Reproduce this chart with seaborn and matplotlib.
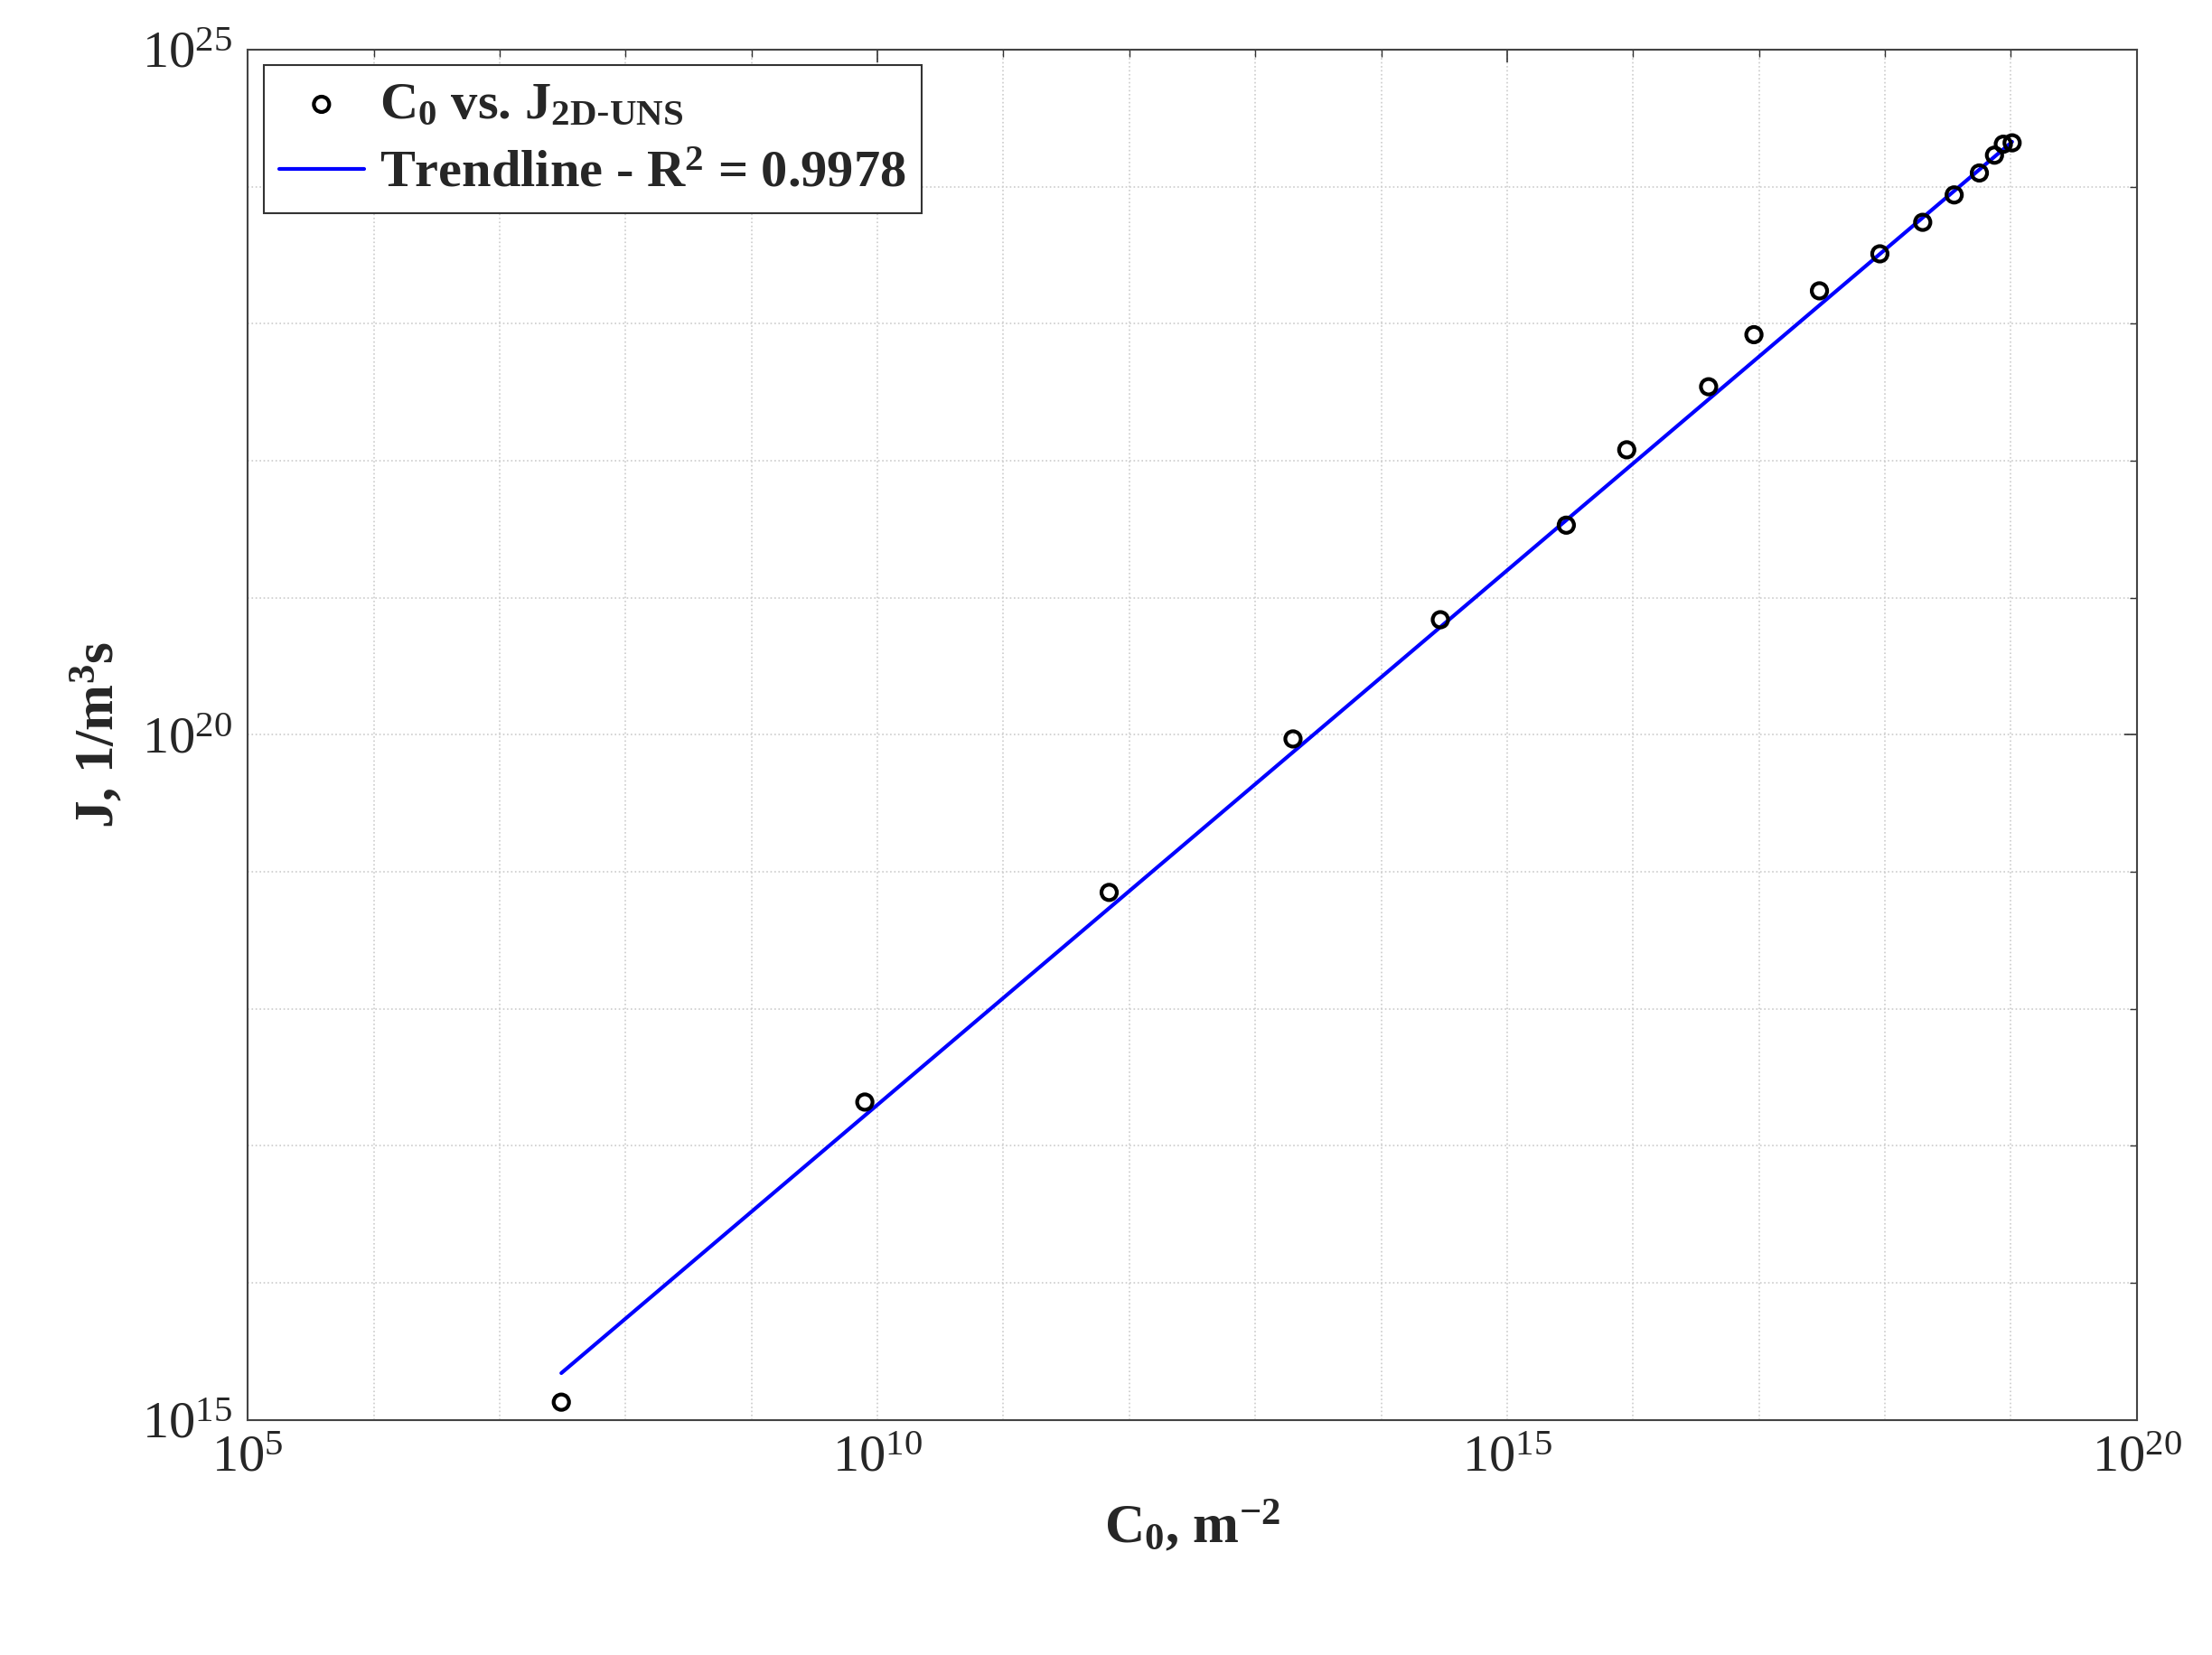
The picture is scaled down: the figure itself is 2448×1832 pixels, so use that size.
import numpy as np
import pandas as pd
import matplotlib
matplotlib.use("Agg")
import matplotlib.pyplot as plt
import seaborn as sns
from matplotlib.ticker import FixedLocator, FuncFormatter, NullFormatter

# log10 values
log_c0 = [7.49, 9.90, 11.84, 13.30, 14.47, 15.47, 15.95, 16.60, 16.96, 17.48,
          17.96, 18.30, 18.55, 18.75, 18.87, 18.94, 19.01]
log_j = [15.13, 17.32, 18.85, 19.97, 20.84, 21.53, 22.08, 22.54, 22.92, 23.24,
         23.51, 23.74, 23.94, 24.10, 24.23, 24.31, 24.32]
trend_slope = 0.780
trend_intercept = 9.50
major_x = [5, 10, 15, 20]
major_y = [15, 20, 25]

sns.set_style("white")
plt.rcParams["font.family"] = ["Liberation Serif", "DejaVu Serif"]
plt.rcParams["mathtext.default"] = "regular"

df = pd.DataFrame({"C0": 10.0 ** np.array(log_c0), "J": 10.0 ** np.array(log_j)})
xt = np.array([log_c0[0], log_c0[-1]])
tr = pd.DataFrame({"C0": 10.0 ** xt, "J": 10.0 ** (trend_intercept + trend_slope * xt)})

fig = plt.figure(figsize=(24.48, 18.32), dpi=100)
ax = fig.add_axes([0.112, 0.142, 0.854, 0.828])
ax.set_xscale("log")
ax.set_yscale("log")

sns.scatterplot(data=df, x="C0", y="J", ax=ax, marker="o", s=150,
                facecolor="none", edgecolor="black", linewidth=3,
                label=r"C$_0$ vs. J$_{2D\text{-}UNS}$", zorder=3)
sns.lineplot(data=tr, x="C0", y="J", ax=ax, color="#0000ff", linewidth=3,
             label=r"Trendline - R$^2$ = 0.9978", zorder=2)

ax.set_xlim(1e5, 1e20)
ax.set_ylim(1e15, 1e25)
ax.xaxis.set_major_locator(FixedLocator([10.0 ** v for v in major_x]))
ax.yaxis.set_major_locator(FixedLocator([10.0 ** v for v in major_y]))
ax.xaxis.set_minor_locator(FixedLocator([10.0 ** v for v in range(5, 21)]))
ax.yaxis.set_minor_locator(FixedLocator([10.0 ** v for v in range(15, 26)]))
fmt = FuncFormatter(lambda v, p: r"$10^{%d}$" % round(np.log10(v)))
ax.xaxis.set_major_formatter(fmt)
ax.yaxis.set_major_formatter(fmt)
ax.xaxis.set_minor_formatter(NullFormatter())
ax.yaxis.set_minor_formatter(NullFormatter())
ax.tick_params(which="both", direction="in", top=True, right=True, labelsize=42,
               color="#333333")
ax.tick_params(which="major", length=10, width=1.2, pad=12)
ax.tick_params(which="minor", length=6, width=1)
ax.grid(True, which="both", linestyle=":", color="#cccccc", linewidth=1.2)
for s in ax.spines.values():
    s.set_color("#444444")
    s.set_linewidth(1.5)

ax.set_xlabel(r"C$_0$, m$^{-2}$", fontsize=44, fontweight="bold", labelpad=14)
ax.set_ylabel(r"J, 1/m$^3$s", fontsize=44, fontweight="bold", labelpad=14)

leg = ax.legend(loc="upper left", prop={"size": 42, "weight": "bold"},
                fancybox=False, framealpha=1, edgecolor="#333333",
                borderaxespad=0.3, handlelength=1.6, handletextpad=0.3,
                labelspacing=0.4, borderpad=0.3)
leg.get_frame().set_linewidth(1.5)

fig.savefig("out.png", dpi=100, facecolor="white")
